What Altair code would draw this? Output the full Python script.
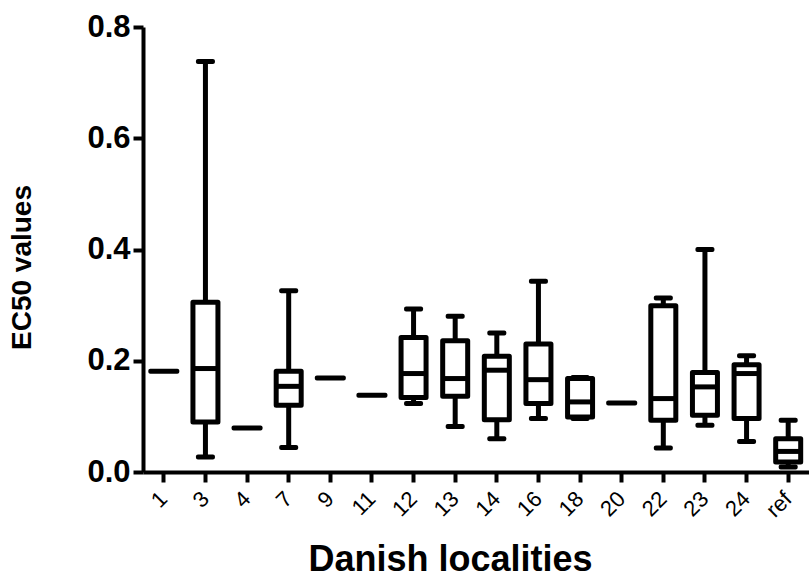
import altair as alt
import pandas as pd

categories = ["1", "3", "4", "7", "9", "11", "12", "13", "14", "16", "18", "20", "22", "23", "24", "ref"]
whisker_low = [None, 0.027, None, 0.044, None, None, 0.123, 0.082, 0.060, 0.096, 0.096, None, 0.043, 0.084, 0.055, 0.009]
quartile_1 = [None, 0.090, None, 0.120, None, None, 0.134, 0.136, 0.094, 0.123, 0.099, None, 0.093, 0.102, 0.096, 0.018]
medians = [0.181, 0.186, 0.079, 0.154, 0.169, 0.138, 0.177, 0.168, 0.183, 0.166, 0.126, 0.124, 0.132, 0.153, 0.177, 0.037]
quartile_3 = [None, 0.305, None, 0.181, None, None, 0.242, 0.236, 0.208, 0.230, 0.168, None, 0.299, 0.179, 0.193, 0.060]
whisker_high = [None, 0.738, None, 0.326, None, None, 0.293, 0.280, 0.250, 0.343, 0.170, None, 0.313, 0.400, 0.209, 0.093]

df = pd.DataFrame({
    "cat": categories,
    "lo": whisker_low,
    "q1": quartile_1,
    "med": medians,
    "q3": quartile_3,
    "hi": whisker_high,
})
df["single"] = df["q1"].isna()

FONT = "Liberation Sans"

x = alt.X(
    "cat:N",
    sort=categories,
    scale=alt.Scale(paddingInner=0, paddingOuter=0),
    axis=alt.Axis(
        title="Danish localities",
        titleFont=FONT, titleFontSize=36, titleFontWeight="bold", titleColor="black",
        titleX=307, titleY=98, titleAnchor="middle", titleAlign="center", titleBaseline="alphabetic",
        labelFont=FONT, labelFontSize=22, labelColor="black", labelAngle=-45,
        labelAlign="right", labelBaseline="middle", labelPadding=13,
        domainColor="black", domainWidth=4, tickColor="black", tickWidth=4, tickSize=10,
        grid=False,
    ),
)
yscale = alt.Scale(domain=[0, 0.8], nice=False, zero=True)
yaxis = alt.Axis(
    title="EC50 values", values=[0, 0.2, 0.4, 0.6, 0.8], format=".1f",
    titleFont=FONT, titleFontSize=28, titleFontWeight="bold", titleColor="black",
    titleX=-121, titleY=240, titleAngle=-90, titleAlign="center", titleBaseline="middle",
    labelFont=FONT, labelFontSize=31, labelFontWeight="bold", labelColor="black", labelPadding=3,
    domainColor="black", domainWidth=4, tickColor="black", tickWidth=4, tickSize=10,
    grid=False,
)

boxes = df[~df["single"]]
bdata = alt.Chart(boxes)

whisk = bdata.mark_rule(color="black", strokeWidth=5).encode(
    x=x, y=alt.Y("lo:Q", scale=yscale, axis=yaxis), y2="hi:Q"
)
cap_lo = bdata.mark_tick(color="black", opacity=1, thickness=5, size=19, cornerRadius=2).encode(
    x=x, y=alt.Y("lo:Q", scale=yscale, axis=yaxis))
cap_hi = bdata.mark_tick(color="black", opacity=1, thickness=5, size=19, cornerRadius=2).encode(
    x=x, y=alt.Y("hi:Q", scale=yscale, axis=yaxis))
box = bdata.mark_bar(fill="white", stroke="black", strokeWidth=5, size=25, strokeJoin="round", opacity=1).encode(
    x=x, y=alt.Y("q1:Q", scale=yscale, axis=yaxis), y2="q3:Q"
)
med_box = bdata.mark_tick(color="black", opacity=1, thickness=5, size=25).encode(
    x=x, y=alt.Y("med:Q", scale=yscale, axis=yaxis))
single = alt.Chart(df[df["single"]]).mark_tick(color="black", opacity=1, thickness=5, size=31, cornerRadius=2).encode(
    x=x, y=alt.Y("med:Q", scale=yscale, axis=yaxis)
)

chart = alt.layer(whisk, cap_lo, cap_hi, box, med_box, single).properties(
    width=666, height=445,
    autosize=alt.AutoSizeParams(type="none"),
    padding={"left": 143, "top": 27, "right": 0, "bottom": 114},
    background="white",
).configure_view(stroke="white", strokeWidth=3).configure_axis(grid=False)

chart.save("out.html", embed_options={"renderer": "svg", "actions": False})
